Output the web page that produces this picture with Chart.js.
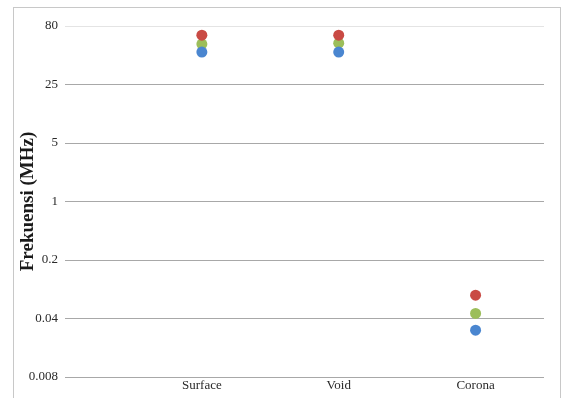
<!DOCTYPE html>
<html>
<head>
<meta charset="utf-8">
<script src="https://cdn.jsdelivr.net/npm/chart.js@4/dist/chart.umd.min.js"></script>
<style>
  html, body { margin: 0; padding: 0; background: #ffffff; }
  #wrap { position: relative; width: 569px; height: 398px; overflow: hidden; }
  #frame { position: absolute; left: 13px; top: 7px; width: 548px; height: 420px;
           border: 1px solid #c8c8c8; box-sizing: border-box; }
  canvas { position: absolute; left: 0; top: 0; }
</style>
</head>
<body>
<div id="wrap">
  <div id="frame"></div>
  <canvas id="chart" width="569" height="398"></canvas>
</div>
<script>
// Discharge types, placed at x = 1, 2, 3
const categories = ['Surface', 'Void', 'Corona'];
const categoryPositions = [1, 2, 3];

// Frequency values (MHz) of the three series for each discharge type
const seriesBlue  = [61, 61, 0.029];
const seriesRed   = [97, 97, 0.076];
const seriesGreen = [76, 78, 0.046];

// Logarithmic tick values (step factor 5) and the texts shown for them
const yTickValues = [0.008, 0.04, 0.2, 1, 5, 25, 125];
const yTickLabels = ['0.008', '0.04', '0.2', '1', '5', '25', '80'];

const toPoints = vals => vals.map((v, i) => ({ x: categoryPositions[i], y: v }));

const serif = '"Liberation Serif", "Times New Roman", serif';

new Chart(document.getElementById('chart'), {
  type: 'scatter',
  data: {
    datasets: [
      { label: 'Series 1', data: toPoints(seriesBlue),  backgroundColor: '#4a86d0', borderColor: '#4a86d0', order: 1 },
      { label: 'Series 2', data: toPoints(seriesRed),   backgroundColor: '#c94a44', borderColor: '#c94a44', order: 2 },
      { label: 'Series 3', data: toPoints(seriesGreen), backgroundColor: '#9cbe5a', borderColor: '#9cbe5a', order: 3 }
    ]
  },
  options: {
    responsive: false,
    animation: false,
    events: [],
    layout: { padding: { top: 26, right: 25, bottom: 0, left: 17 } },
    elements: { point: { radius: 5.5, borderWidth: 0, pointStyle: 'circle' } },
    plugins: { legend: { display: false }, tooltip: { enabled: false } },
    scales: {
      x: {
        type: 'linear',
        min: 0,
        max: 3.5,
        afterBuildTicks: s => { s.ticks = categoryPositions.map(v => ({ value: v })); },
        afterFit: s => { s.height = 21; },
        grid: { display: false, drawTicks: false },
        border: { display: false },
        ticks: {
          padding: 1,
          color: '#2a2a2a',
          font: { family: serif, size: 13 },
          callback: v => categories[categoryPositions.indexOf(v)]
        }
      },
      y: {
        type: 'logarithmic',
        min: 0.008,
        max: 125,
        afterBuildTicks: s => { s.ticks = yTickValues.map(v => ({ value: v })); },
        afterFit: s => { s.width = 48; },
        grid: {
          drawTicks: false,
          lineWidth: 1,
          color: ctx => (ctx.tick && ctx.tick.value === 125) ? '#e4e4e4' : '#a8a8a8'
        },
        border: { display: false },
        title: {
          display: true,
          text: 'Frekuensi (MHz)',
          color: '#1a1a1a',
          padding: { top: 0, bottom: 4 },
          font: { family: serif, size: 19, weight: 'bold' }
        },
        ticks: {
          padding: 7,
          color: '#2a2a2a',
          font: { family: serif, size: 13 },
          callback: (v) => {
            const i = yTickValues.findIndex(t => Math.abs(t - v) / t < 1e-6);
            return i >= 0 ? yTickLabels[i] : '';
          }
        }
      }
    }
  }
});
</script>
</body>
</html>
